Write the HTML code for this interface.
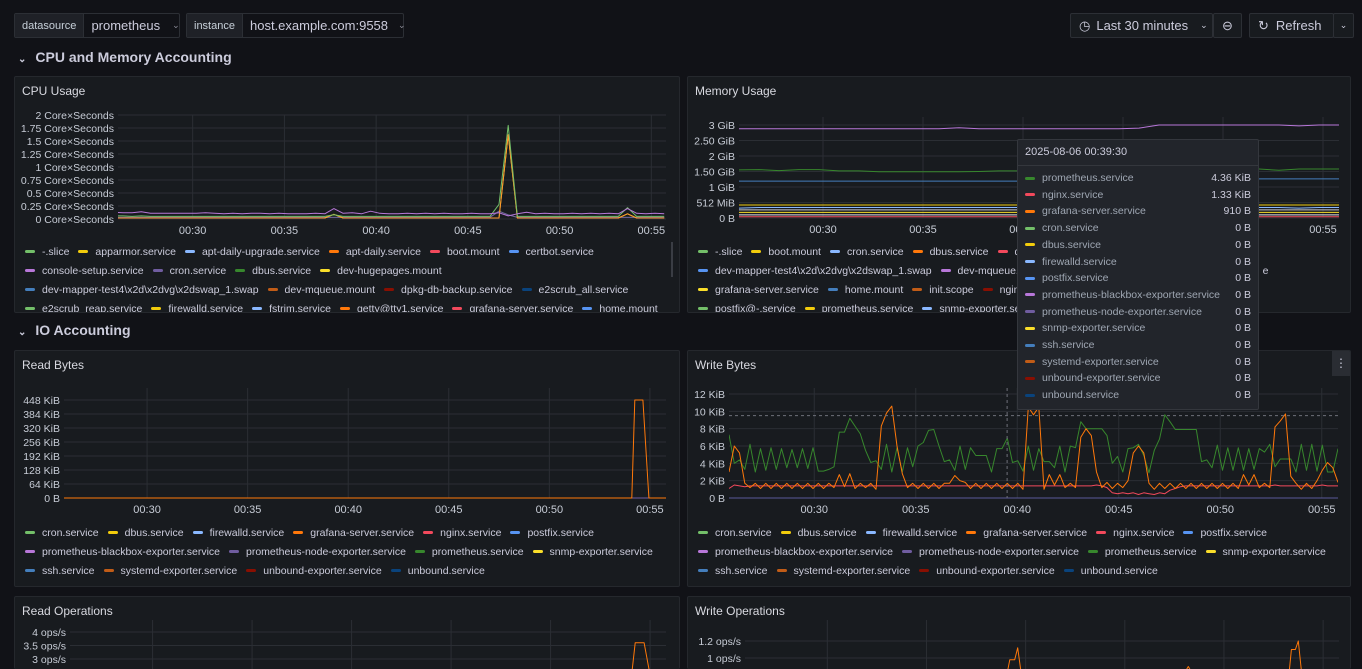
<!DOCTYPE html>
<html><head><meta charset="utf-8">
<style>
*{box-sizing:border-box;margin:0;padding:0}
html,body{width:1362px;height:669px;overflow:hidden}
body{background:#111217;font-family:"Liberation Sans",sans-serif;color:#ccccdc;position:relative}
.abs{position:absolute}
.box{position:absolute;border:1px solid #2c2f35;border-radius:2px;display:flex;align-items:center;font-size:13px;color:#ccccdc;white-space:nowrap}
.lbl{background:#1f2127;font-size:11px;padding:0 7px;height:100%;display:flex;align-items:center;border-right:1px solid #2c2f35;color:#c7d0d9}
.panel{position:absolute;background:#181b1f;border:1px solid #25282d;border-radius:2px;overflow:hidden}
.ptitle{position:absolute;left:7px;top:7px;font-size:12px;color:#d8d9e0}
.row{position:absolute;left:18px;font-size:14px;font-weight:bold;color:#ccccdc}
.legend{position:absolute;left:10px;font-size:10.5px;color:#ccccdc;white-space:nowrap}
.lrow{height:19px;display:flex;align-items:center}
.li{display:flex;align-items:center;margin-right:9px}
.dash{width:10px;height:3px;border-radius:2px;margin-right:7px}
#tooltip{position:absolute;left:1017px;top:139px;width:242px;height:271px;background:#22252b;border:1px solid #34373d;border-radius:2px;z-index:5;font-size:10.5px}
.trow{position:absolute;left:7px;right:7px;height:16px;display:flex;align-items:center}
.trow .n{color:#9fa7b3;flex:1}
.trow .v{color:#ccccdc}
</style></head><body>
<div class="box" style="left:14px;top:13px;width:166px;height:25px"><span class="lbl">datasource</span><span style="padding-left:7px">prometheus</span><span style="margin-left:12px;font-size:9px;color:#8e8e9a">⌄</span></div>
<div class="box" style="left:186px;top:13px;width:218px;height:25px"><span class="lbl">instance</span><span style="padding-left:7px">host.example.com:9558</span><span style="margin-left:10px;font-size:9px;color:#8e8e9a">⌄</span></div>
<div class="box" style="left:1070px;top:13px;width:143px;height:25px;background:#181b1f;padding-left:8px"><span style="font-size:13px;margin-right:6px">◷</span>Last 30 minutes<span style="margin-left:12px;font-size:9px">⌄</span></div>
<div class="box" style="left:1213px;top:13px;width:29px;height:25px;background:#181b1f;justify-content:center">⊖</div>
<div class="box" style="left:1249px;top:13px;width:85px;height:25px;background:#181b1f;padding-left:8px"><span style="margin-right:7px">↻</span>Refresh</div>
<div class="box" style="left:1333px;top:13px;width:21px;height:25px;background:#181b1f;justify-content:center;font-size:9px">⌄</div>

<div class="row" style="top:49px"><span style="font-size:10px;margin-right:9px">⌄</span>CPU and Memory Accounting</div>
<div class="row" style="top:322px"><span style="font-size:10px;margin-right:9px">⌄</span>IO Accounting</div>

<div class="panel" style="left:14px;top:76px;width:666px;height:237px"><div class="ptitle">CPU Usage</div><div class="legend" id="lg-cpu" style="top:165px"></div><div class="abs" style="left:656px;top:165px;width:2px;height:35px;background:#3a3d44"></div></div>
<div class="panel" style="left:687px;top:76px;width:664px;height:237px"><div class="ptitle">Memory Usage</div><div class="legend" id="lg-mem" style="top:165px"></div></div>
<div class="panel" style="left:14px;top:350px;width:666px;height:237px"><div class="ptitle">Read Bytes</div><div class="legend" id="lg-rb" style="top:172px"></div></div>
<div class="panel" style="left:687px;top:350px;width:664px;height:237px"><div class="ptitle">Write Bytes</div><div class="legend" id="lg-wb" style="top:172px"></div><div class="abs" style="right:0;top:0;width:18px;height:25px;background:#2a2d33;color:#ccccdc;text-align:center;line-height:24px;font-size:12px">⋮</div></div>
<div class="panel" style="left:14px;top:596px;width:666px;height:73px;border-bottom:none"><div class="ptitle">Read Operations</div></div>
<div class="panel" style="left:687px;top:596px;width:664px;height:73px;border-bottom:none"><div class="ptitle">Write Operations</div></div>

<svg id="charts" class="abs" style="left:0;top:0;z-index:2" width="1362" height="669" xmlns="http://www.w3.org/2000/svg"></svg>

<div id="tooltip">
<div class="abs" style="left:7px;top:6px;font-size:11px;color:#ccccdc">2025-08-06 00:39:30</div>
<div class="abs" style="left:0;right:0;top:25px;height:1px;background:#34373d"></div>
</div>

<script>
// ---- data ----
const xTickTimes = [30, 35, 40, 45, 50, 55];
const xTickLabels = ["00:30", "00:35", "00:40", "00:45", "00:50", "00:55"];

const cpuTicks = [0, 0.25, 0.5, 0.75, 1, 1.25, 1.5, 1.75, 2];
const cpuTickLabels = ["0 Core×Seconds","0.25 Core×Seconds","0.5 Core×Seconds","0.75 Core×Seconds","1 Core×Seconds","1.25 Core×Seconds","1.5 Core×Seconds","1.75 Core×Seconds","2 Core×Seconds"];
const cpuConsole = [0.13,0.12,0.12,0.14,0.11,0.11,0.11,0.11,0.11,0.11,0.12,0.11,0.10,0.11,0.10,0.11,0.11,0.10,0.11,0.10,0.10,0.10,0.11,0.10,0.20,0.11,0.12,0.10,0.15,0.11,0.10,0.10,0.11,0.10,0.11,0.10,0.11,0.10,0.10,0.11,0.10,0.10,0.12,0.06,0.10,0.13,0.10,0.11,0.10,0.10,0.11,0.10,0.11,0.10,0.11,0.10,0.20,0.11,0.10,0.11,0.10];
const cpuSlice = [0.06,0.06,0.05,0.06,0.05,0.05,0.05,0.05,0.05,0.05,0.05,0.05,0.05,0.05,0.05,0.05,0.05,0.05,0.05,0.05,0.05,0.05,0.05,0.05,0.08,0.05,0.05,0.05,0.05,0.05,0.05,0.05,0.05,0.05,0.05,0.05,0.05,0.05,0.05,0.05,0.05,0.05,0.28,1.80,0.05,0.05,0.05,0.05,0.05,0.05,0.05,0.05,0.05,0.05,0.05,0.05,0.22,0.05,0.05,0.05,0.05];
const cpuApt = [0.02,0.02,0.02,0.02,0.02,0.02,0.02,0.02,0.02,0.02,0.02,0.02,0.02,0.02,0.02,0.02,0.02,0.02,0.02,0.02,0.02,0.02,0.02,0.02,0.09,0.02,0.02,0.02,0.02,0.02,0.02,0.02,0.02,0.02,0.02,0.02,0.02,0.02,0.02,0.02,0.02,0.02,0.02,1.62,0.02,0.02,0.02,0.02,0.02,0.02,0.02,0.02,0.02,0.02,0.02,0.02,0.10,0.02,0.02,0.02,0.02];
const cpuCron = [0.03,0.03,0.03,0.03,0.03,0.03,0.03,0.03,0.03,0.03,0.03,0.03,0.03,0.03,0.03,0.03,0.03,0.03,0.03,0.03,0.03,0.03,0.03,0.03,0.03,0.03,0.03,0.03,0.03,0.03,0.03,0.03,0.03,0.03,0.03,0.03,0.03,0.03,0.03,0.03,0.03,0.03,0.15,0.08,0.03,0.03,0.03,0.03,0.03,0.03,0.03,0.03,0.03,0.03,0.03,0.03,0.03,0.03,0.03,0.03,0.03];

const memTicks = [0, 0.5, 1, 1.5, 2, 2.5, 3];
const memTickLabels = ["0 B","512 MiB","1 GiB","1.50 GiB","2 GiB","2.50 GiB","3 GiB"];
const memTop = [2.88,2.88,2.88,2.88,2.88,2.88,2.88,2.88,2.88,2.88,2.88,2.91,2.88,2.88,2.88,2.88,2.88,2.88,2.88,2.88,2.90,3.00,3.00,3.00,3.00,3.00,3.00,3.00,2.97,3.00,3.00];
const memSlice = [1.55,1.56,1.53,1.56,1.56,1.52,1.52,1.49,1.49,1.49,1.49,1.49,1.50,1.52,1.52,1.53,1.53,1.53,1.54,1.56,1.56,1.57,1.57,1.57,1.58,1.58,1.58,1.54,1.58,1.58,1.58];
const memMapper = [1.19,1.19,1.19,1.19,1.19,1.19,1.19,1.19,1.19,1.19,1.19,1.19,1.19,1.19,1.19,1.19,1.19,1.19,1.19,1.19,1.21,1.24,1.24,1.25,1.25,1.25,1.26,1.26,1.26,1.26,1.26];
const memBoot = [0.42,0.42,0.42,0.42,0.42,0.42,0.42,0.42,0.42,0.42,0.42,0.42,0.42,0.42,0.42,0.42,0.42,0.42,0.42,0.42,0.42,0.42,0.42,0.42,0.42,0.42,0.42,0.42,0.42,0.42,0.42];
const memCron = [0.32,0.34,0.34,0.34,0.34,0.34,0.34,0.34,0.34,0.34,0.34,0.34,0.34,0.34,0.34,0.34,0.34,0.34,0.34,0.34,0.34,0.34,0.34,0.34,0.34,0.34,0.34,0.34,0.32,0.34,0.34];
const memDbus = [0.26,0.26,0.26,0.26,0.26,0.26,0.26,0.26,0.26,0.26,0.26,0.26,0.26,0.26,0.26,0.26,0.26,0.26,0.26,0.26,0.26,0.26,0.26,0.26,0.26,0.26,0.26,0.26,0.26,0.26,0.26];
const memGrafana = [0.18,0.18,0.18,0.18,0.18,0.18,0.18,0.18,0.18,0.18,0.18,0.18,0.18,0.18,0.18,0.18,0.18,0.18,0.18,0.18,0.18,0.18,0.18,0.18,0.18,0.18,0.18,0.18,0.18,0.18,0.18];
const memMqueue = [0.10,0.10,0.10,0.10,0.10,0.10,0.10,0.10,0.10,0.10,0.10,0.10,0.10,0.10,0.10,0.10,0.10,0.10,0.10,0.10,0.10,0.10,0.10,0.10,0.10,0.10,0.10,0.10,0.10,0.10,0.10];
const memNginx = [0.04,0.04,0.04,0.04,0.04,0.04,0.04,0.04,0.04,0.04,0.04,0.04,0.04,0.04,0.04,0.04,0.04,0.04,0.04,0.04,0.04,0.04,0.04,0.04,0.04,0.04,0.04,0.04,0.04,0.04,0.04];

const rbTicks = [0, 64, 128, 192, 256, 320, 384, 448];
const rbTickLabels = ["0 B","64 KiB","128 KiB","192 KiB","256 KiB","320 KiB","384 KiB","448 KiB"];
const rbTimes = [25.8, 54.1, 54.25, 54.65, 54.95, 55.8];
const rbGrafana = [0, 0, 448, 448, 0, 0];

const wbTicks = [0, 2, 4, 6, 8, 10, 12];
const wbTickLabels = ["0 B","2 KiB","4 KiB","6 KiB","8 KiB","10 KiB","12 KiB"];
const wbPrometheus = [7.3,4.0,4.4,3.3,6.2,3.0,5.7,3.2,5.8,3.3,5.7,3.5,5.6,3.5,5.7,3.4,5.8,3.1,3.1,3.3,3.6,7.6,7.6,9.2,8.3,7.4,5.5,4.1,4.3,3.3,6.2,3.0,5.8,3.0,5.8,3.6,6.0,6.4,7.8,7.9,6.0,4.2,4.4,3.2,6.0,3.3,5.8,4.9,4.9,4.9,3.0,5.7,5.7,6.9,4.1,4.3,3.1,6.0,3.2,5.7,4.2,4.2,3.5,6.0,3.0,6.0,5.8,8.8,8.0,8.0,8.0,8.0,7.2,4.0,4.8,3.0,5.7,5.8,6.2,4.9,2.9,5.5,6.8,9.6,8.8,7.9,7.9,7.9,7.9,7.9,4.2,4.4,3.5,6.1,3.2,5.8,3.2,5.8,3.2,5.7,3.3,5.7,5.3,6.2,3.6,4.5,4.5,4.5,3.0,6.2,3.2,6.2,3.1,6.1,3.0,3.0,5.7];
const wbGrafana = [3.0,6.0,5.2,1.7,1.2,1.7,1.1,1.7,1.1,1.7,1.1,1.7,1.1,1.7,1.1,1.7,1.1,1.7,1.1,1.7,1.2,2.7,1.3,2.8,1.1,1.7,1.2,1.7,1.0,8.3,9.8,10.6,6.0,2.8,1.2,1.7,1.1,1.7,1.1,1.7,1.1,1.7,1.7,2.6,2.0,1.8,1.1,1.7,1.1,1.7,1.1,1.7,1.1,1.7,1.1,1.7,1.0,10.5,9.6,10.5,1.0,2.7,1.5,2.7,1.2,1.7,1.2,7.0,8.0,7.2,3.0,1.2,1.8,1.1,1.7,1.2,2.0,5.2,6.0,5.2,1.7,1.0,1.7,1.1,1.7,1.1,1.7,1.1,1.7,1.1,1.7,1.1,1.7,1.1,1.7,1.1,1.7,1.1,2.7,1.5,2.7,1.2,1.7,1.2,8.2,8.9,9.7,2.5,1.7,1.0,1.7,1.1,2.0,3.2,4.1,3.5,1.8];
const wbNginx = [1.1,1.5,1.4,1.3,1.4,1.4,1.4,1.4,1.4,1.4,1.4,1.4,1.4,1.4,1.4,1.4,1.4,1.4,1.4,1.4,1.4,1.4,1.4,1.4,1.4,1.4,1.4,1.4,1.4,1.4,1.4,1.4,1.4,1.4,1.4,1.4,1.4,1.4,1.4,1.4,1.4,1.4,1.4,1.4,1.4,1.4,1.4,1.4,1.4,1.4,1.4,1.4,1.4,1.4,1.4,1.4,1.4,1.4,1.4,1.4,1.4,1.4,1.4,1.4,1.4,1.4,1.4,1.4,1.4,1.4,1.5,1.4,1.2,0.6,0.5,0.6,0.5,0.6,0.4,0.6,0.5,0.4,0.6,0.5,0.9,1.1,1.3,1.4,1.4,1.4,1.4,1.4,1.4,1.4,1.4,1.4,1.4,1.4,1.4,1.4,1.4,1.4,1.4,1.4,1.5,1.4,1.4,1.4,1.4,1.4,1.4,1.4,1.4,1.5,1.4,1.4,1.4];

const roTicks = [3, 3.5, 4];
const roTickLabels = ["3 ops/s","3.5 ops/s","4 ops/s"];
const roTimes = [25.85, 54.1, 54.25, 54.7, 54.95, 55.8];
const roGrafana = [2.6, 2.6, 3.6, 3.6, 2.6, 2.6];

const woTicks = [1, 1.2];
const woTickLabels = ["1 ops/s","1.2 ops/s"];
const woTimes = [25.85, 39.1, 39.2, 39.45, 39.6, 39.75, 48.1, 48.2, 48.3, 53.3, 53.4, 53.6, 53.75, 53.9, 55.8];
const woGrafana = [0.86, 0.86, 0.98, 0.98, 1.12, 0.86, 0.86, 0.9, 0.86, 0.86, 1.1, 1.1, 1.2, 0.86, 0.86];

// ---- drawing ----
const NS = "http://www.w3.org/2000/svg";
const svg = document.getElementById("charts");
function el(tag, attrs, parent) {
  const e = document.createElementNS(NS, tag);
  for (const k in attrs) e.setAttribute(k, attrs[k]);
  (parent || svg).appendChild(e);
  return e;
}
let clipId = 0;
function chart(c) {
  const g = el("g", {});
  
  
  const sx = t => c.x0 + (t - c.tmin) / (c.tmax - c.tmin) * (c.x1 - c.x0);
  const sy = v => c.yb - (v - c.vmin) / (c.vmax - c.vmin) * (c.yb - c.yt);
  c.yTicks.forEach((v, i) => {
    const y = sy(v);
    const gl = el("line", {x1: c.x0, x2: c.x1, y1: y, y2: y, stroke: "#2b2e34", "stroke-width": 1}, g);
    
    
    const t = el("text", {x: c.x0 - 4, y: y + 4, "text-anchor": "end", "font-size": "10.5", fill: "#c7ccd6", "font-family": "Liberation Sans, sans-serif"}, g);
    t.textContent = c.yLabels[i];
    
    
  });
  xTickTimes.forEach((tm, i) => {
    const x = sx(tm);
    const gl = el("line", {x1: x, x2: x, y1: c.gridTop, y2: c.gridBottom || c.yb, stroke: "#2b2e34", "stroke-width": 1}, g);
    
    
    if (c.showX) {
      const t = el("text", {x: x, y: c.yb + 15, "text-anchor": "middle", "font-size": "11", fill: "#c7ccd6", "font-family": "Liberation Sans, sans-serif"}, g);
      t.textContent = xTickLabels[i];
      
      
    }
  });
  clipId++;
  const cp = el("clipPath", {id: "cp" + clipId}, g);
  el("rect", {x: c.x0, y: c.clipTop, width: c.x1 - c.x0, height: c.clipBottom - c.clipTop}, cp);
  const lg = el("g", {"clip-path": "url(#cp" + clipId + ")"}, g);
  c.series.forEach(s => {
    const n = s.values.length;
    const pts = s.values.map((v, i) => {
      const t = s.times ? s.times[i] : s.start + i * (s.end - s.start) / (n - 1);
      return sx(t).toFixed(1) + "," + sy(v).toFixed(1);
    });
    const p = el("polyline", {points: pts.join(" "), fill: "none", stroke: s.color, "stroke-width": 1, "stroke-linejoin": "round"}, lg);
    
    
  });
  return {sx, sy, g};
}

chart({name: "cpu-usage-chart", x0: 118, x1: 666, tmin: 25.93, tmax: 55.8, yb: 219, yt: 115, vmin: 0, vmax: 2,
  yTicks: cpuTicks, yLabels: cpuTickLabels, gridTop: 115, showX: true, clipTop: 100, clipBottom: 222,
  series: [
    {label: "dbus", color: "#37872d", start: 25.7, end: 55.7, values: cpuCron},
    {label: "cron", color: "#705da0", start: 25.7, end: 55.7, values: cpuCron},
    {label: "apparmor", color: "#f2cc0c", start: 25.7, end: 55.7, values: cpuApt},
    {label: "apt-daily", color: "#ff9830", start: 25.7, end: 55.7, values: cpuApt},
    {label: "slice", color: "#73bf69", start: 25.7, end: 55.7, values: cpuSlice},
    {label: "console-setup", color: "#b877d9", start: 25.7, end: 55.7, values: cpuConsole}
  ]});

chart({name: "memory-usage-chart", x0: 739, x1: 1339, tmin: 25.8, tmax: 55.8, yb: 218, yt: 125, vmin: 0, vmax: 3,
  yTicks: memTicks, yLabels: memTickLabels, gridTop: 117, showX: true, clipTop: 100, clipBottom: 222,
  series: [
    {label: "nginx", color: "#f2495c", start: 25.8, end: 55.8, values: memNginx},
    {label: "dev-mqueue", color: "#e0e0e8", start: 25.8, end: 55.8, values: memMqueue},
    {label: "grafana-server", color: "#fade2a", start: 25.8, end: 55.8, values: memGrafana},
    {label: "dbus", color: "#c8c8d0", start: 25.8, end: 55.8, values: memDbus},
    {label: "cron", color: "#8ab8ff", start: 25.8, end: 55.8, values: memCron},
    {label: "boot", color: "#f2cc0c", start: 25.8, end: 55.8, values: memBoot},
    {label: "dev-mapper", color: "#447ebc", start: 25.8, end: 55.8, values: memMapper},
    {label: "slice", color: "#37872d", start: 25.8, end: 55.8, values: memSlice},
    {label: "memory-top", color: "#b877d9", start: 25.8, end: 55.8, values: memTop}
  ]});

chart({name: "read-bytes-chart", x0: 64, x1: 666, tmin: 25.87, tmax: 55.8, yb: 498, yt: 400, vmin: 0, vmax: 448,
  yTicks: rbTicks, yLabels: rbTickLabels, gridTop: 388, showX: true, clipTop: 380, clipBottom: 501,
  series: [
    {label: "baseline", color: "#705da0", times: [25.87, 55.8], values: [0, 0]},
    {label: "grafana-server", color: "#ff780a", times: rbTimes, values: rbGrafana}
  ]});

const wb = chart({name: "write-bytes-chart", x0: 729, x1: 1338, tmin: 25.8, tmax: 55.8, yb: 498, yt: 394, vmin: 0, vmax: 12,
  yTicks: wbTicks, yLabels: wbTickLabels, gridTop: 388, showX: true, clipTop: 380, clipBottom: 501,
  series: [
    {label: "baseline", color: "#5a5a9a", times: [25.8, 55.8], values: [0, 0]},
    {label: "nginx", color: "#f2495c", start: 25.8, end: 55.8, values: wbNginx},
    {label: "prometheus", color: "#37872d", start: 25.8, end: 55.8, values: wbPrometheus},
    {label: "grafana-server", color: "#ff780a", start: 25.8, end: 55.8, values: wbGrafana}
  ]});
const chx = wb.sx(39.5), chy = wb.sy(9.5);
const cv = el("line", {x1: chx, x2: chx, y1: 388, y2: 498, stroke: "#6e7079", "stroke-dasharray": "3,3", "stroke-width": 1});


const ch = el("line", {x1: 729, x2: 1338, y1: chy, y2: chy, stroke: "#6e7079", "stroke-dasharray": "3,3", "stroke-width": 1});



chart({name: "read-operations-chart", x0: 70, x1: 666, tmin: 25.85, tmax: 55.8, yb: 659, yt: 632, vmin: 3, vmax: 4,
  yTicks: roTicks, yLabels: roTickLabels, gridTop: 620, gridBottom: 669, showX: false, clipTop: 620, clipBottom: 669,
  series: [{label: "grafana-server", color: "#ff780a", times: roTimes, values: roGrafana}]});

chart({name: "write-operations-chart", x0: 745, x1: 1339, tmin: 25.85, tmax: 55.8, yb: 658, yt: 641, vmin: 1, vmax: 1.2,
  yTicks: woTicks, yLabels: woTickLabels, gridTop: 620, gridBottom: 669, showX: false, clipTop: 620, clipBottom: 669,
  series: [{label: "grafana-server", color: "#ff780a", times: woTimes, values: woGrafana}]});

// ---- legends ----
const C = {green:"#73bf69",yellow:"#f2cc0c",lblue:"#8ab8ff",orange:"#ff780a",red:"#f2495c",blue:"#5794f2",purple:"#b877d9",dpurple:"#705da0",dgreen:"#37872d",dyellow:"#fade2a",sblue:"#447ebc",brown:"#c15c17",dred:"#890f02",navy:"#0a437c"};
const cpuLegend = [
  [["-.slice","green"],["apparmor.service","yellow"],["apt-daily-upgrade.service","lblue"],["apt-daily.service","orange"],["boot.mount","red"],["certbot.service","blue"]],
  [["console-setup.service","purple"],["cron.service","dpurple"],["dbus.service","dgreen"],["dev-hugepages.mount","dyellow"]],
  [["dev-mapper-test4\\x2d\\x2dvg\\x2dswap_1.swap","sblue"],["dev-mqueue.mount","brown"],["dpkg-db-backup.service","dred"],["e2scrub_all.service","navy"]],
  [["e2scrub_reap.service","green"],["firewalld.service","yellow"],["fstrim.service","lblue"],["getty@tty1.service","orange"],["grafana-server.service","red"],["home.mount","blue"]]
];
const memLegend = [
  [["-.slice","green"],["boot.mount","yellow"],["cron.service","lblue"],["dbus.service","orange"],["dev-hugepages.mount","red"],["dev-mapper.swap","blue"]],
  [["dev-mapper-test4\\x2d\\x2dvg\\x2dswap_1.swap","blue"],["dev-mqueue.mount","purple"],["firewalld.service","dpurple"],["fstrim.service","dgreen"],["e","dyellow"]],
  [["grafana-server.service","dyellow"],["home.mount","sblue"],["init.scope","brown"],["nginx.service","dred"],["postfix.service","navy"]],
  [["postfix@-.service","green"],["prometheus.service","yellow"],["snmp-exporter.service","lblue"]]
];
const ioLegend = [
  [["cron.service","green"],["dbus.service","yellow"],["firewalld.service","lblue"],["grafana-server.service","orange"],["nginx.service","red"],["postfix.service","blue"]],
  [["prometheus-blackbox-exporter.service","purple"],["prometheus-node-exporter.service","dpurple"],["prometheus.service","dgreen"],["snmp-exporter.service","dyellow"]],
  [["ssh.service","sblue"],["systemd-exporter.service","brown"],["unbound-exporter.service","dred"],["unbound.service","navy"]]
];
function legend(id, rows) {
  const root = document.getElementById(id);
  rows.forEach(r => {
    const row = document.createElement("div");
    row.className = "lrow";
    r.forEach(([name, col]) => {
      const it = document.createElement("div");
      it.className = "li";
      
      
      const d = document.createElement("span");
      d.className = "dash";
      d.style.background = C[col];
      const t = document.createElement("span");
      t.textContent = name;
      it.appendChild(d); it.appendChild(t);
      row.appendChild(it);
    });
    root.appendChild(row);
  });
}
legend("lg-cpu", cpuLegend);
legend("lg-mem", memLegend);
legend("lg-rb", ioLegend);
legend("lg-wb", ioLegend);

// ---- tooltip ----
const ttNames = ["prometheus.service","nginx.service","grafana-server.service","cron.service","dbus.service","firewalld.service","postfix.service","prometheus-blackbox-exporter.service","prometheus-node-exporter.service","snmp-exporter.service","ssh.service","systemd-exporter.service","unbound-exporter.service","unbound.service"];
const ttValues = ["4.36 KiB","1.33 KiB","910 B","0 B","0 B","0 B","0 B","0 B","0 B","0 B","0 B","0 B","0 B","0 B"];
const ttColors = ["dgreen","red","orange","green","yellow","lblue","blue","purple","dpurple","dyellow","sblue","brown","dred","navy"];
const tt = document.getElementById("tooltip");
ttNames.forEach((n, i) => {
  const r = document.createElement("div");
  r.className = "trow";
  r.style.top = (30 + i * 16.7) + "px";
  
  
  r.innerHTML = '<span class="dash" style="background:' + C[ttColors[i]] + '"></span><span class="n">' + n + '</span><span class="v">' + ttValues[i] + '</span>';
  tt.appendChild(r);
});
</script>
</body></html>
